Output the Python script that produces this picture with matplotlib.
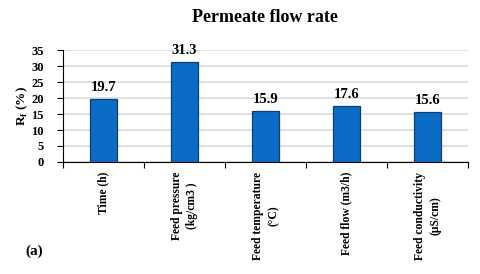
import matplotlib.pyplot as plt
import numpy as np

categories = ['Time (h)', 'Feed pressure\n(kg/cm3 )', 'Feed temperature\n(°C)',
              'Feed flow (m3/h)', 'Feed conductivity\n(µS/cm)']
values = [19.7, 31.3, 15.9, 17.6, 15.6]

plt.rcParams['font.family'] = ['Liberation Serif', 'DejaVu Serif']
plt.rcParams['font.weight'] = 'bold'

fig = plt.figure(figsize=(4.8, 2.74), dpi=100)
ax = fig.add_axes([63/480, 1 - 162/274, (468 - 63)/480, (162 - 50)/274])

x = np.arange(len(categories))
bars = ax.bar(x, values, width=0.33, color='#0a6cc4', edgecolor='#0b3f7a', linewidth=0.9, zorder=3)
for b, v in zip(bars, values):
    ax.text(b.get_x() + b.get_width()/2, v + 1.6, f'{v}', ha='center', va='bottom',
            fontsize=10.5, fontweight='bold')

ax.set_xlim(-0.5, len(categories) - 0.5)
ax.set_ylim(0, 35)
ax.set_yticks(range(0, 36, 5))
ax.yaxis.grid(True, color='#e0e0e0', linewidth=1.4, zorder=0)
ax.set_xticks(np.arange(-0.5, len(categories), 1))
ax.set_xticklabels([])
ax.set_xticks(x, minor=True)
ax.set_xticklabels(categories, minor=True, rotation=90, fontsize=8.4, fontweight='bold',
                   va='top', linespacing=1.4)
ax.tick_params(axis='x', which='minor', length=0, pad=7)
ax.tick_params(axis='x', which='major', length=4, direction='out')
ax.tick_params(axis='y', length=4, labelsize=9, pad=10)
for s in ['top', 'right']:
    ax.spines[s].set_visible(False)
ax.set_ylabel(r'R$_\mathregular{f}$ (%)', fontsize=9.5, fontweight='bold', labelpad=1)

fig.text(265/480, 1 - 17/274, 'Permeate flow rate', ha='center', va='center',
         fontsize=13, fontweight='bold')
fig.text(25/480, 1 - 251/274, '(a)', ha='left', va='center', fontsize=11, fontweight='bold')

fig.savefig('out.png', dpi=100)
